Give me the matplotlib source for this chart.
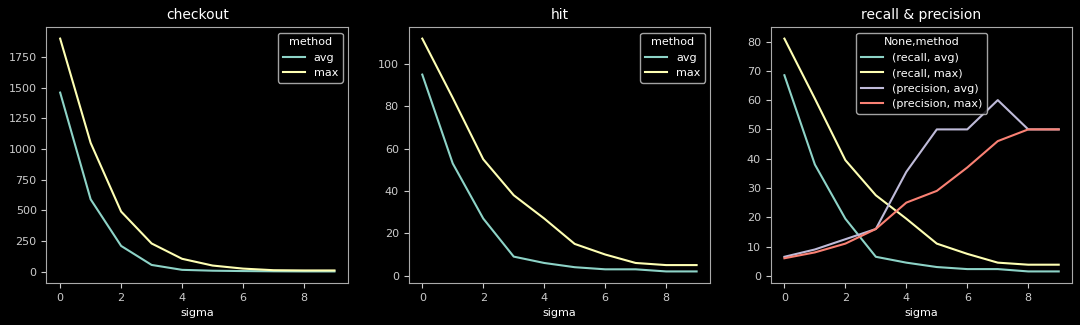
import numpy as np
import matplotlib.pyplot as plt

plt.style.use('dark_background')
plt.rcParams['font.size'] = 8

sigma = np.arange(10)

checkout_avg = [1460, 590, 210, 55, 15, 8, 5, 3, 2, 2]
checkout_max = [1900, 1050, 490, 230, 105, 50, 25, 12, 10, 10]

hit_avg = [95, 53, 27, 9, 6, 4, 3, 3, 2, 2]
hit_max = [112, 84, 55, 38, 27, 15, 10, 6, 5, 5]

recall_avg = [68.5, 38, 19.5, 6.5, 4.5, 3, 2.3, 2.3, 1.5, 1.5]
recall_max = [81, 60.5, 39.5, 27.5, 19.5, 11, 7.5, 4.5, 3.8, 3.8]
precision_avg = [6.5, 9, 12.5, 16, 35.5, 50, 50, 60, 50, 50]
precision_max = [6, 8, 11, 16, 25, 29, 37, 46, 50, 50]

fig, axes = plt.subplots(1, 3, figsize=(10.8, 3.25), dpi=100)
fig.subplots_adjust(left=0.043, right=0.993, top=0.917, bottom=0.129, wspace=0.2)

ax = axes[0]
ax.plot(sigma, checkout_avg, label='avg')
ax.plot(sigma, checkout_max, label='max')
ax.set_title('checkout', fontsize=10)
ax.set_xlabel('sigma')
ax.legend(title='method')

ax = axes[1]
ax.plot(sigma, hit_avg, label='avg')
ax.plot(sigma, hit_max, label='max')
ax.set_title('hit', fontsize=10)
ax.set_xlabel('sigma')
ax.legend(title='method')

ax = axes[2]
ax.plot(sigma, recall_avg, label='(recall, avg)')
ax.plot(sigma, recall_max, label='(recall, max)')
ax.plot(sigma, precision_avg, label='(precision, avg)')
ax.plot(sigma, precision_max, label='(precision, max)')
ax.set_title('recall & precision', fontsize=10)
ax.set_xlabel('sigma')
ax.set_yticks(range(0, 90, 10))
ax.legend(title='None,method', loc='upper center')

for ax in axes:
    ax.set_xticks([0, 2, 4, 6, 8])
    for s in ax.spines.values():
        s.set_color('#aaaaaa')
    ax.tick_params(colors='#cccccc')

plt.savefig('out.png')
